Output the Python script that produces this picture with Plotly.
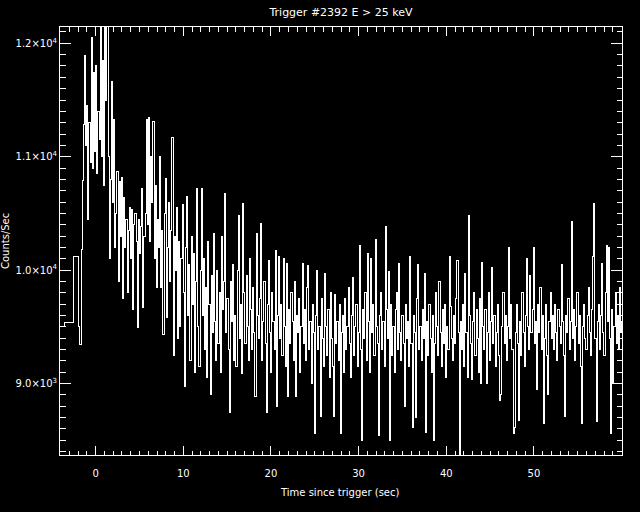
import numpy as np
import plotly.graph_objects as go

# Pre-trigger (coarse) bins: left edges and counts
PRE_EDGES = [-4.608, -3.584, -2.56]
PRE_COUNTS = [9505, 9538, 10122]

# Post (fine) bins
FINE_START = -1.92
BIN_WIDTH = 0.128
FINE_COUNTS = [
    9500, 9340, 10180, 10790, 11280, 11890, 11100, 11450, 10450, 11300,
    10950, 12050, 10900, 11740, 11050, 11800, 10850, 11400, 11150, 12300,
    11000, 11850, 10750, 12250, 11500, 12200, 11000, 10100, 10800, 11660,
    10600, 11330, 10200, 10500, 10870, 9900, 10780, 10300, 10820, 9750,
    10640, 10200, 10450, 9800, 10350, 10550, 10100, 10530, 9650, 10400,
    10500, 10250, 9490, 10450, 10150, 10380, 10720, 9670, 10300, 10500,
    11330, 10400, 11350, 10250, 11000, 10600, 11310, 10100, 10750, 9850,
    10450, 10200, 11000, 9850, 10350, 9430, 10500, 10810, 9580, 10200,
    10600, 9900, 10350, 11170, 9250, 10300, 10000, 10550, 9400, 10250,
    9500, 10100, 10575, 9800, 8970, 10200, 10650, 9600, 10050, 9200,
    10300, 9700, 10150, 9100, 9900, 10720, 9500, 9150, 10000, 10720,
    9600, 10100, 9300, 9850, 9050, 10250, 9700, 8900, 9950, 9450,
    10325, 9550, 9200, 10000, 9350, 9800, 9100, 10300, 9650, 9900,
    10675, 9450, 9750, 9300, 8740, 9900, 9550, 10050, 9200, 9600,
    9150, 10000, 10485, 9400, 9700, 9090, 10590, 9800, 9350, 9950,
    9500, 9200, 10100, 9650, 9300, 9850, 9450, 8880, 10325, 9600,
    9400, 9750, 10413, 9200, 9550, 9900, 9350, 8740, 9700, 10087,
    9450, 9100, 9800, 9550, 9300, 10175, 8795, 9600, 10120, 9400,
    9700, 9250, 10100, 9500, 9150, 10060, 8880, 9650, 9350, 9800,
    9550, 9200, 9900, 8880, 9600, 9450, 9750, 9100, 9500, 10060,
    9350, 9650, 9200, 9850, 10040, 9300, 9550, 9000, 9700, 9450,
    8560, 9600, 9998, 9300, 9500, 8706, 9750, 9400, 9150, 9970,
    9500, 9250, 9650, 9050, 9800, 9400, 9150, 8706, 9780, 9350,
    9550, 9200, 9700, 8560, 9450, 9600, 9100, 9750, 9300, 9500,
    9850, 9350, 9050, 9600, 9930, 9250, 9500, 9700, 9150, 9450,
    10220, 9300, 8500, 9650, 9400, 9800, 9200, 10150, 9550, 9100,
    10100, 9450, 9700, 9250, 10265, 9500, 9350, 8540, 9600, 9800,
    9300, 9550, 9150, 10380, 9650, 9400, 9985, 8500, 9700, 9250,
    9500, 9100, 9650, 9800, 9300, 10060, 9450, 9200, 9600, 9350,
    8795, 9700, 9400, 9550, 9150, 10115, 9350, 8615, 9600, 9450,
    8700, 9750, 10050, 9300, 9500, 9200, 9650, 9400, 9970, 8570,
    9550, 9250, 9700, 9400, 9100, 9600, 8500, 9350, 9800, 9500,
    9250, 9900, 9450, 9150, 9650, 9350, 9700, 9050, 9500, 9300,
    10115, 9675, 9400, 9200, 9600, 9350, 9750, 10080, 9450, 8250,
    9550, 9300, 9700, 9150, 9970, 9450, 9050, 10485, 9600, 9350,
    9030, 9550, 9800, 9250, 9650, 9400, 9100, 9750, 9000, 10070,
    9500, 9300, 9650, 9000, 9450, 9800, 9200, 9550, 10020, 9350,
    9600, 9150, 9450, 9700, 9250, 8853, 8900, 9500, 9800, 9350,
    9600, 9200, 9500, 10200, 9400, 9700, 9300, 8560, 8615, 9450,
    9700, 9350, 8670, 9550, 9250, 9800, 9450, 9150, 9600, 10100,
    9500, 9300, 9950, 9450, 9650, 10200, 9350, 9550, 8950, 9700,
    9450, 9850, 9300, 9600, 8650, 9400, 9700, 9250, 8900, 9550,
    9800, 9400, 9600, 9300, 9700, 9450, 9200, 9650, 9500, 9350,
    10050, 9550, 9250, 8706, 9600, 9450, 9750, 9300, 9550, 10425,
    9400, 9650, 9200, 9500, 9800, 9350, 9600, 9150, 8650, 9500,
    9700, 9400, 9300, 9600, 9850, 9450, 9250, 9650, 10120, 10590,
    9400, 8660, 9550, 9700, 9300, 9600, 10060, 9450, 9250, 9800,
    10220, 9550, 10200, 9400, 8560, 9650, 9000, 9500, 9800, 9350,
    9600, 9300, 9850, 9450, 9550,
]

X_TICKS = [0, 10, 20, 30, 40, 50]
Y_TICKS = [9000, 10000, 11000, 12000]
Y_TICK_LABELS = ["9.0×10<sup>3</sup>", "1.0×10<sup>4</sup>",
                 "1.1×10<sup>4</sup>", "1.2×10<sup>4</sup>"]
TITLE = "Trigger #2392 E > 25 keV"
X_TITLE = "Time since trigger (sec)"
Y_TITLE = "Counts/Sec"

fine_edges = FINE_START + BIN_WIDTH * np.arange(len(FINE_COUNTS))
x = list(PRE_EDGES) + list(fine_edges) + [fine_edges[-1] + BIN_WIDTH]
y = list(PRE_COUNTS) + list(FINE_COUNTS) + [FINE_COUNTS[-1]]

FONT = "DejaVu Sans"

fig = go.Figure()
fig.add_trace(go.Scatter(x=x, y=y, mode="lines",
                         line=dict(color="white", width=1, shape="hv"),
                         hoverinfo="skip", showlegend=False))

fig.update_layout(
    width=640, height=512,
    paper_bgcolor="black", plot_bgcolor="black",
    margin=dict(l=60, r=18, t=27, b=57),
    font=dict(family=FONT, color="white", size=10),
    title=dict(text=TITLE, x=341/640, xref="container", xanchor="center",
               y=1 - 12/512, yref="container", yanchor="middle",
               font=dict(size=11, color="white", family=FONT)),
    annotations=[
        dict(text=X_TITLE, xref="paper", yref="paper",
             x=(340-60)/562, y=(455-492)/428, xanchor="center", yanchor="middle",
             showarrow=False, font=dict(size=10, color="white", family=FONT)),
        dict(text=Y_TITLE, xref="paper", yref="paper", textangle=-90,
             x=(5-60)/562, y=0.5, xanchor="center", yanchor="middle",
             showarrow=False, font=dict(size=10, color="white", family=FONT)),
    ],
)

fig.update_xaxes(range=[-4.07, 60.05], tickvals=X_TICKS, ticks="inside",
                 ticklen=9, tickcolor="white", tickwidth=1,
                 showline=True, linecolor="white", linewidth=1, mirror="allticks",
                 showgrid=False, zeroline=False, ticklabelstandoff=9,
                 tickfont=dict(size=10, color="white", family=FONT),
                 minor=dict(dtick=1, ticks="inside", ticklen=4.5,
                            tickcolor="white", tickwidth=1, showgrid=False))
fig.update_yaxes(range=[8368, 12144], tickvals=Y_TICKS, ticktext=Y_TICK_LABELS,
                 ticks="inside", ticklen=11, tickcolor="white", tickwidth=1,
                 showline=True, linecolor="white", linewidth=1, mirror="allticks",
                 showgrid=False, zeroline=False,
                 tickfont=dict(size=10, color="white", family=FONT),
                 minor=dict(dtick=100, tick0=0, ticks="inside", ticklen=5.5,
                            tickcolor="white", tickwidth=1, showgrid=False))

POST_JS = (
    "document.body.style.margin='0';"
    "document.body.style.background='black';"
    "var s=document.createElement('style');"
    "s.textContent='.scatterlayer path.js-line{shape-rendering:crispEdges;}';"
    "document.head.appendChild(s);"
)

fig.write_html("out.html", post_script=POST_JS,
               config={"displayModeBar": False, "staticPlot": True})
